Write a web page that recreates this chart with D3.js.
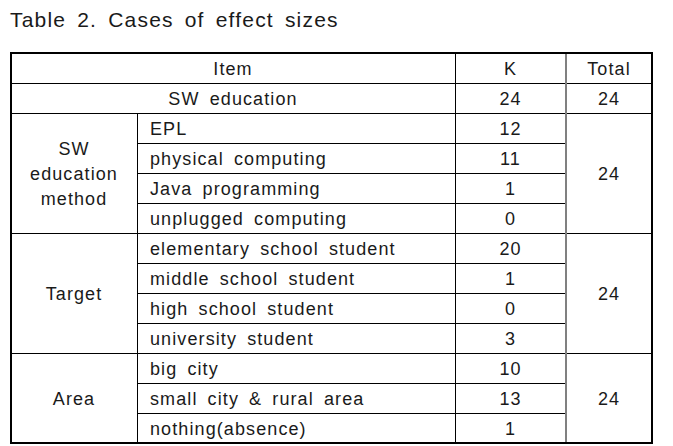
<!DOCTYPE html>
<html>
<head>
<meta charset="utf-8">
<script src="https://cdn.jsdelivr.net/npm/d3@7"></script>
<style>
  body { margin: 0; background: #fff; }
  svg text { font-family: "Liberation Sans", Arial, sans-serif; fill: #1a1a1a; }
</style>
</head>
<body>
<div id="chart"></div>
<script>
'use strict';

const title = "Table 2. Cases of effect sizes";
const headers = ["Item", "K", "Total"];
const overallLabel = "SW education";
const overallK = 24;
const overallTotal = 24;

const groups = ["SW\neducation\nmethod", "Target", "Area"];
const groupTotals = [24, 24, 24];
const items = [
  ["EPL", "physical computing", "Java programming", "unplugged computing"],
  ["elementary school student", "middle school student", "high school student", "university student"],
  ["big city", "small city & rural area", "nothing(absence)"]
];
const kValues = [
  [12, 11, 1, 0],
  [20, 1, 0, 3],
  [10, 13, 1]
];

// layout
const width = 673, height = 446;
const colEdges = [11, 137, 455, 566, 652];
const tableTop = 53, tableBottom = 443;
const fontSize = 18;

// flatten rows
const rows = [];
groups.forEach(function (g, gi) {
  items[gi].forEach(function (it, ii) {
    rows.push({ group: gi, item: it, k: kValues[gi][ii], first: ii === 0 });
  });
});
const nRows = 2 + rows.length;

const yScale = d3.scaleBand()
  .domain(d3.range(nRows))
  .range([tableTop, tableBottom]);
const rh = yScale.bandwidth();

const svg = d3.select("#chart").append("svg")
  .attr("width", width)
  .attr("height", height);

svg.append("text")
  .attr("x", 10)
  .attr("y", 27)
  .attr("font-size", 21)
  .attr("letter-spacing", 1.2)
  .attr("word-spacing", 4)
  .text(title);

const lines = svg.append("g").attr("stroke", "#000").attr("stroke-width", 1).attr("shape-rendering", "crispEdges");

function hline(y, x1, x2) {
  lines.append("line").attr("x1", x1).attr("x2", x2).attr("y1", y).attr("y2", y);
}

// header / overall row borders
hline(yScale(1), colEdges[0], colEdges[4]);
hline(yScale(2), colEdges[0], colEdges[4]);

// group starts and item separators
const groupStart = [];
rows.forEach(function (r, i) {
  const y = yScale(i + 2);
  if (r.first) {
    groupStart.push(i + 2);
    if (i > 0) hline(y, colEdges[0], colEdges[4]);
  } else {
    hline(y, colEdges[1], colEdges[3]);
  }
});

// vertical lines
lines.append("line").attr("x1", colEdges[1]).attr("x2", colEdges[1]).attr("y1", yScale(2)).attr("y2", tableBottom);
lines.append("line").attr("x1", colEdges[2]).attr("x2", colEdges[2]).attr("y1", tableTop).attr("y2", tableBottom);
lines.append("line").attr("x1", colEdges[3]).attr("x2", colEdges[3]).attr("y1", tableTop).attr("y2", tableBottom)
  .attr("stroke", "#808080").attr("stroke-width", 2);

// outer border
lines.append("rect")
  .attr("x", colEdges[0]).attr("y", tableTop)
  .attr("width", colEdges[4] - colEdges[0]).attr("height", tableBottom - tableTop)
  .attr("fill", "none").attr("stroke-width", 1.5);

const txt = svg.append("g").attr("font-size", fontSize).attr("word-spacing", 4).attr("letter-spacing", 1.1);

function cell(x, y, s, anchor) {
  return txt.append("text")
    .attr("x", x).attr("y", y)
    .attr("dy", "0.38em")
    .attr("text-anchor", anchor || "middle")
    .text(s);
}

const midItem = (colEdges[0] + colEdges[2]) / 2;
const midK = (colEdges[2] + colEdges[3]) / 2;
const midTotal = (colEdges[3] + colEdges[4]) / 2;

// header
cell(midItem, yScale(0) + rh / 2, headers[0]);
cell(midK, yScale(0) + rh / 2, headers[1]);
cell(midTotal, yScale(0) + rh / 2, headers[2]);

// overall
cell(midItem, yScale(1) + rh / 2, overallLabel);
cell(midK, yScale(1) + rh / 2, overallK);
cell(midTotal, yScale(1) + rh / 2, overallTotal);

// rows
rows.forEach(function (r, i) {
  const yc = yScale(i + 2) + rh / 2;
  cell(colEdges[1] + 13, yc, r.item, "start");
  cell(midK, yc, r.k);
});

// group labels and totals
groups.forEach(function (g, gi) {
  const s = groupStart[gi];
  const n = items[gi].length;
  const yc = yScale(s) + (n * rh) / 2;
  const parts = g.split("\n");
  const lh = 25;
  parts.forEach(function (p, pi) {
    cell((colEdges[0] + colEdges[1]) / 2, yc + (pi - (parts.length - 1) / 2) * lh, p);
  });
  cell(midTotal, yc, groupTotals[gi]);
});
</script>
</body>
</html>
